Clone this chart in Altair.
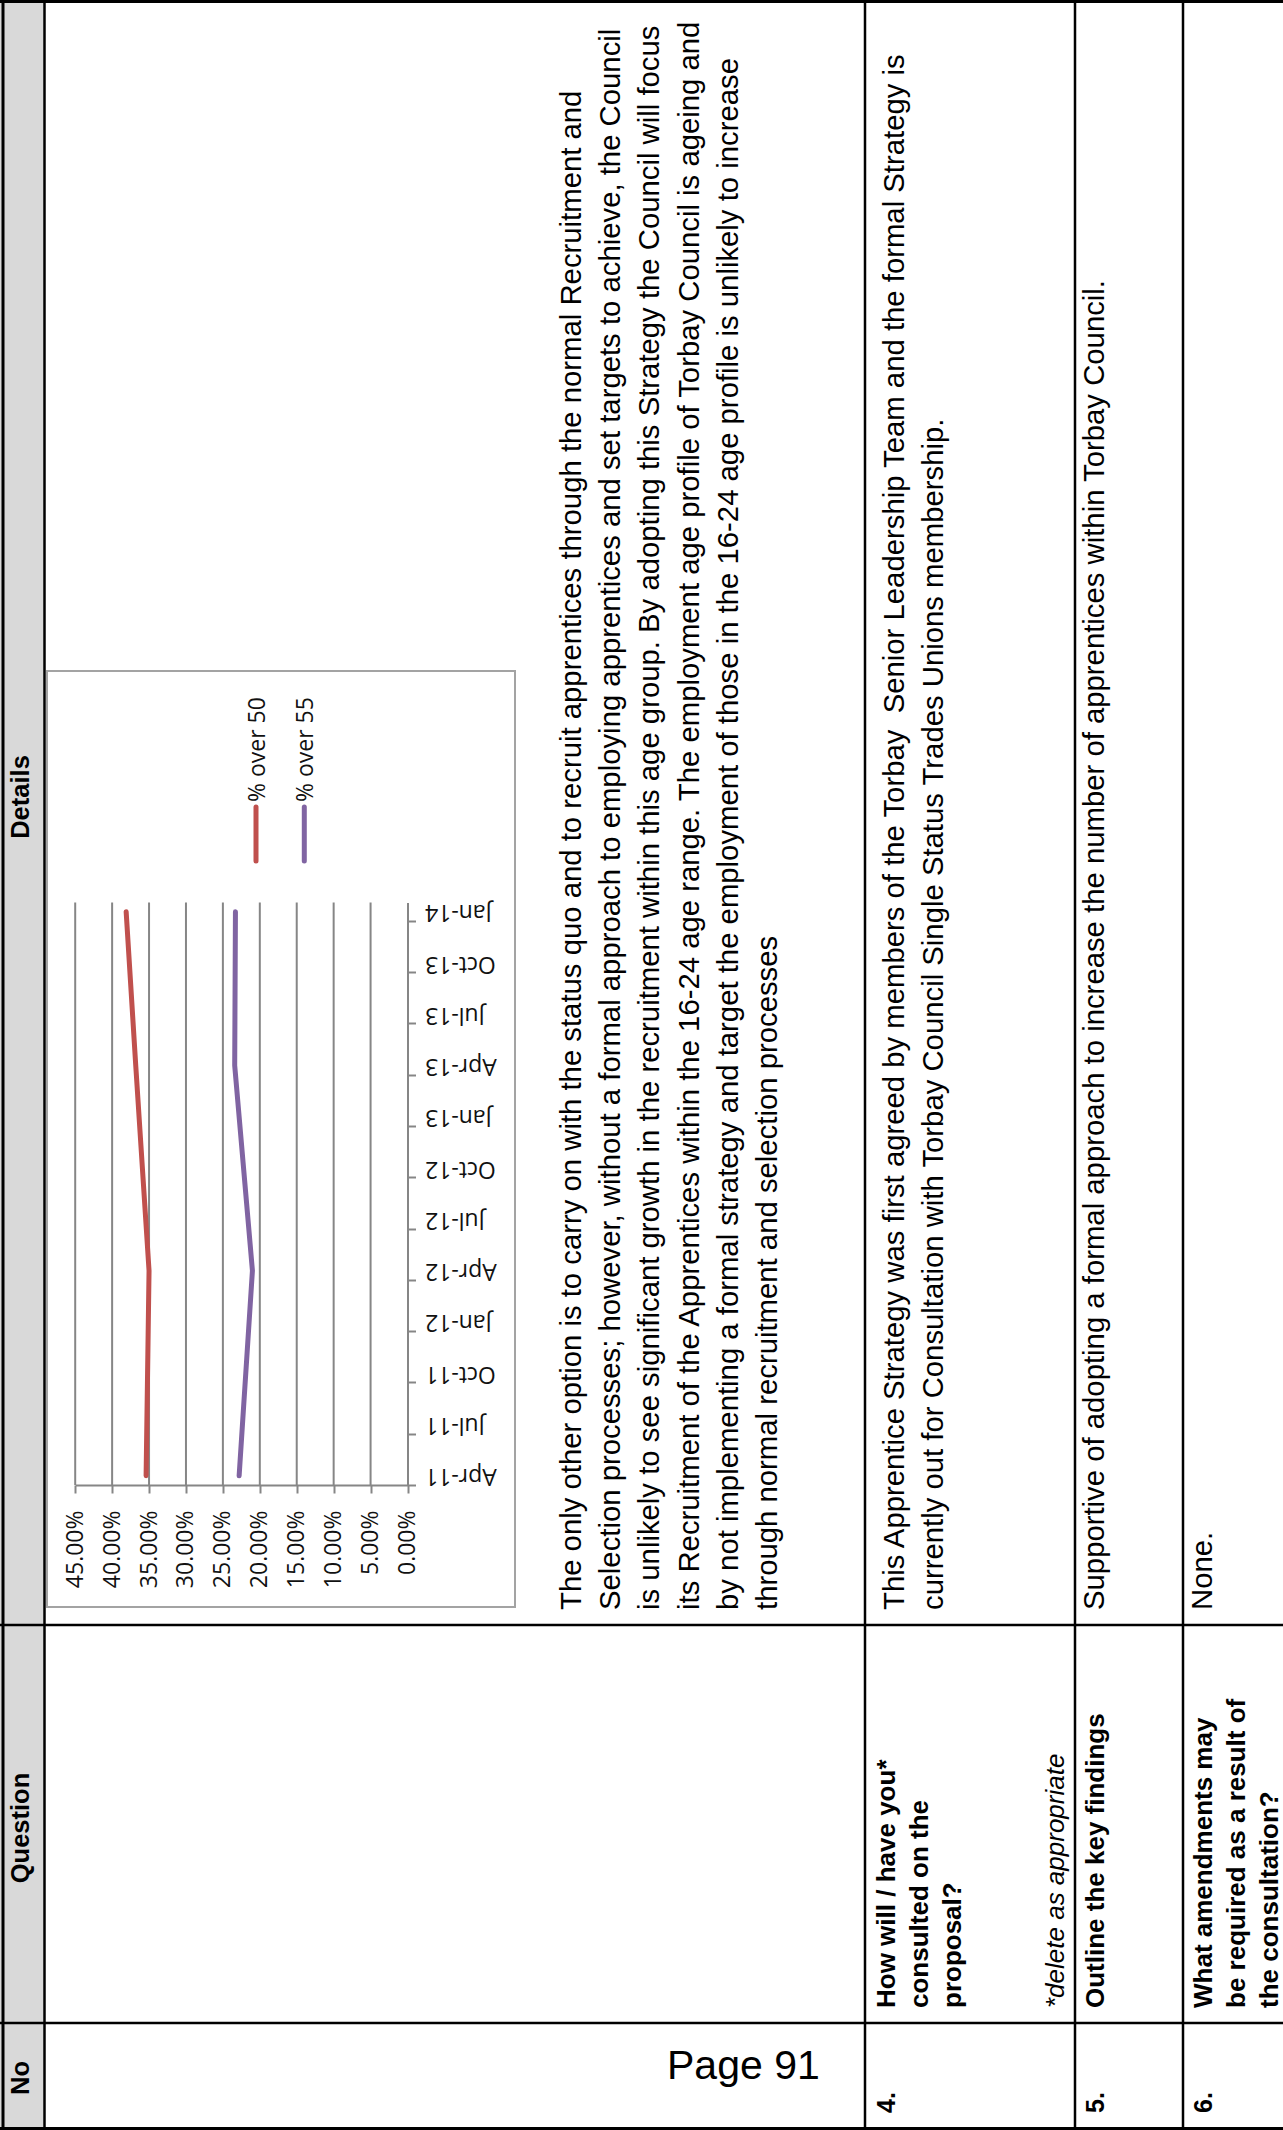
import altair as alt
import pandas as pd

# ---------------- data ----------------
quarters = ["Apr-11", "Jul-11", "Oct-11", "Jan-12", "Apr-12", "Jul-12",
            "Oct-12", "Jan-13", "Apr-13", "Jul-13", "Oct-13", "Jan-14"]
obs_dates = ["Apr-11", "Apr-12", "Apr-13", "Jan-14"]
over_50 = [0.354, 0.350, 0.368, 0.381]
over_55 = [0.228, 0.210, 0.234, 0.233]
series_names = ["% over 50", "% over 55"]
series_colors = ["#C0504D", "#8064A2"]
pct_ticks = [0.0, 0.05, 0.10, 0.15, 0.20, 0.25, 0.30, 0.35, 0.40, 0.45]

header_labels = ["Details", "Question", "No"]
details_row3 = [
    "The only other option is to carry on with the status quo and to recruit apprentices through the normal Recruitment and",
    "Selection processes; however, without a formal approach to employing apprentices and set targets to achieve, the Council",
    "is unlikely to see significant growth in the recruitment within this age group. By adopting this Strategy the Council will focus",
    "its Recruitment of the Apprentices within the 16-24 age range. The employment age profile of Torbay Council is ageing and",
    "by not implementing a formal strategy and target the employment of those in the 16-24 age profile is unlikely to increase",
    "through normal recruitment and selection processes",
]
details_row4 = [
    "This Apprentice Strategy was first agreed by members of the Torbay \u00a0Senior Leadership Team and the formal Strategy is",
    "currently out for Consultation with Torbay Council Single Status Trades Unions membership.",
]
details_row5 = ["Supportive of adopting a formal approach to increase the number of apprentices within Torbay Council."]
details_row6 = ["None."]
question_row4 = ["How will / have you*", "consulted on the", "proposal?"]
question_note = ["*delete as appropriate"]
question_row5 = ["Outline the key findings"]
question_row6 = ["What amendments may", "be required as a result of", "the consultation?"]
row_numbers = ["4.", "5.", "6."]
page_label = ["Page 91"]

# ---------------- layout (pixels) ----------------
W, H = 1283, 2130
AX_BOTTOM, AX_TOP = 1485, 902.5          # category axis extent
AX_ZERO, AX_MAX = 407.5, 75.2            # value axis extent (0% .. 45%)
DETAIL_START, QUESTION_START, NO_START = 1610, 2008, 2113

FONT = "Liberation Sans, Arial, sans-serif"
CFONT = "Open Sans, sans-serif"

# ---------------- chart (rotated line chart) ----------------
x_scale = alt.Scale(domain=[0, 0.45], range=[AX_ZERO, AX_MAX], nice=False, zero=False)
y_scale = alt.Scale(domain=quarters, range=[AX_BOTTOM, AX_TOP], padding=0.18)

x_axis = alt.Axis(orient="bottom", offset=AX_BOTTOM - H, values=pct_ticks, format=".2%",
                  labelAngle=270, labelAlign="right", labelBaseline="middle",
                  labelFont=CFONT, labelFontSize=23, labelColor="#111", labelPadding=17,
                  tickSize=8, tickColor="#868686", tickWidth=2,
                  domainColor="#868686", domainWidth=2, grid=False, title=None,
                  labelFlush=False, labelOverlap=False, zindex=1)
y_axis = alt.Axis(orient="right", offset=AX_ZERO - W, values=quarters,
                  labelAngle=180, labelAlign="right", labelBaseline="middle",
                  labelFont=CFONT, labelFontSize=23, labelColor="#111", labelPadding=9,
                  tickSize=8, tickColor="#868686", tickWidth=2, tickOffset=9.2, labelOffset=-9.2,
                  domainColor="#868686", domainWidth=2, grid=False, title=None,
                  labelOverlap=False, zindex=1)

rows = []
for name, vals in zip(series_names, [over_50, over_55]):
    for i, (d, v) in enumerate(zip(obs_dates, vals)):
        rows.append({"series": name, "date": d, "value": v, "idx": i})
line_df = pd.DataFrame(rows)
grid_df = pd.DataFrame({"v": pct_ticks[1:]})

color_scale = alt.Scale(domain=series_names, range=series_colors)

grid = alt.Chart(grid_df).mark_rule(color="#868686", strokeWidth=2).encode(
    x=alt.X("v:Q", scale=x_scale, axis=x_axis),
    y=alt.value(AX_TOP),
    y2=alt.value(AX_BOTTOM),
)
lines = alt.Chart(line_df).mark_line(strokeWidth=5, strokeCap="round", strokeJoin="round").encode(
    x=alt.X("value:Q", scale=x_scale, axis=x_axis),
    y=alt.Y("date:N", scale=y_scale, sort=quarters, axis=y_axis),
    color=alt.Color("series:N", scale=color_scale, legend=None),
    order=alt.Order("idx:Q"),
)
chart_layer = alt.layer(grid, lines)

# ---------------- page decoration ----------------
def px(f):
    return alt.X(f + ":Q", scale=None, axis=None)

def py(f):
    return alt.Y(f + ":Q", scale=None, axis=None)

rect_df = pd.DataFrame([{"x": 0, "x2": 44, "y": 0, "y2": H}])
strip = alt.Chart(rect_df).mark_rect(color="#d9d9d9").encode(
    x=px("x"), x2="x2", y=py("y"), y2="y2")
box_df = pd.DataFrame([{"x": 47, "x2": 515, "y": 671, "y2": 1607}])
box = alt.Chart(box_df).mark_rect(fill="white", stroke="#a3a3a3", strokeWidth=2).encode(
    x=px("x"), x2="x2", y=py("y"), y2="y2")
bg = alt.layer(strip, box)

seg = [
    (0, 1.5, W, 1.5, 3), (0, 2128.5, W, 2128.5, 3),
    (3, 0, 3, H, 3), (44.5, 0, 44.5, H, 2.5),
    (0, 1625, W, 1625, 2.5), (0, 2023, W, 2023, 2.5),
    (865, 0, 865, H, 2.5), (1075, 0, 1075, H, 2.5), (1183, 0, 1183, H, 2.5),
]
seg_df = pd.DataFrame(seg, columns=["x", "y", "x2", "y2", "w"])
rules = alt.Chart(seg_df).mark_rule(color="black").encode(
    x=px("x"), y=py("y"), x2="x2", y2="y2", strokeWidth=alt.StrokeWidth("w:Q", scale=None))

def text_df(lines_, xs, y0):
    return pd.DataFrame({"t": lines_, "x": xs, "y": [y0] * len(lines_)})

body_df = pd.concat([
    text_df(details_row3, [581 + 39.2 * i for i in range(len(details_row3))], DETAIL_START),
    text_df(details_row4, [903.5, 942.7], DETAIL_START),
    text_df(details_row5, [1104], DETAIL_START),
    text_df(details_row6, [1212], DETAIL_START),
])
bold_df = pd.concat([
    text_df(question_row4, [895, 928, 961], QUESTION_START),
    text_df(question_row5, [1104], QUESTION_START),
    text_df(question_row6, [1212, 1245, 1278], QUESTION_START),
])
num_df = text_df(row_numbers, [895, 1104, 1212], NO_START)
note_df = text_df(question_note, [1064], QUESTION_START)
head_df = pd.DataFrame({"t": header_labels, "x": [29] * 3, "y": [797, 1828, 2078]})
page_df = pd.DataFrame({"t": page_label, "x": [667], "y": [2079]})

def rot_text(df, size, weight="normal", style="normal", align="left"):
    return alt.Chart(df).mark_text(angle=270, align=align, baseline="alphabetic",
                                   font=FONT, fontSize=size, fontWeight=weight,
                                   fontStyle=style, color="black").encode(
        x=px("x"), y=py("y"), text="t:N")

body = rot_text(body_df, 29.3)
bold = rot_text(bold_df, 26, weight="bold")
nums = rot_text(num_df, 25, weight="bold")
note = rot_text(note_df, 26, style="italic")
heads = rot_text(head_df, 25.5, weight="bold", align="center")
page = alt.Chart(page_df).mark_text(align="left", baseline="alphabetic", font=FONT,
                                    fontSize=41, color="black").encode(
    x=px("x"), y=py("y"), text="t:N")

# legend (rotated with the page)
leg_df = pd.DataFrame({"series": series_names, "x": [256, 304.3], "y": [807, 807],
                       "y2": [861, 861], "tx": [265, 313], "ty": [802, 802]})
leg_sw = alt.Chart(leg_df).mark_rule(strokeWidth=5, strokeCap="round").encode(
    x=px("x"), y=py("y"), y2="y2",
    color=alt.Color("series:N", scale=color_scale, legend=None))
leg_tx = alt.Chart(leg_df).mark_text(angle=270, align="left", baseline="alphabetic",
                                     font=CFONT, fontSize=23, color="#111").encode(
    x=px("tx"), y=py("ty"), text="series:N")

fg = alt.layer(rules, body, bold, nums, note, heads, page, leg_sw, leg_tx)

chart = alt.layer(bg, chart_layer, fg).resolve_scale(
    x="independent", y="independent", color="independent"
).properties(
    width=W, height=H, padding=0, background="white",
    autosize=alt.AutoSizeParams(type="none")
).configure_view(stroke=None)

chart.save("out.html", embed_options={"renderer": "svg", "actions": False})
